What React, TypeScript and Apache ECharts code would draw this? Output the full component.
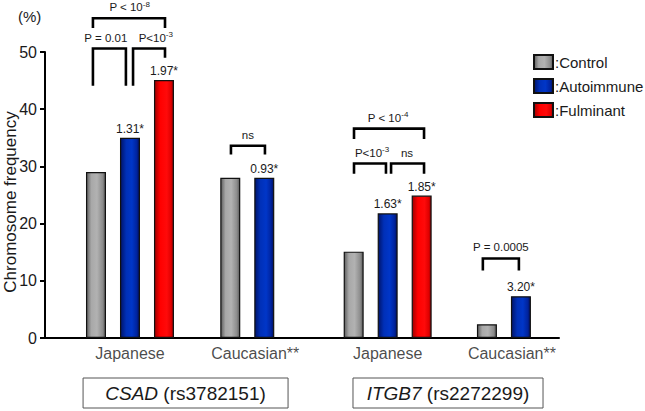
import React, { useEffect, useRef } from 'react';
import * as echarts from 'echarts';

// ---------- data ----------
const groups = ['Japanese', 'Caucasian**', 'Japanese', 'Caucasian**'];
const control = [29, 28, 15.1, 2.4];
const autoimmune = [35, 28, 21.8, 7.3];
const fulminant: (number | null)[] = [45.1, null, 24.9, null];
const autoLabels = ['1.31*', '0.93*', '1.63*', '3.20*'];
const fulLabels = ['1.97*', '', '1.85*', ''];
const genes = ['CSAD', 'ITGB7'];
const snps = ['rs3782151', 'rs2272299'];
const bracketText = [
  'P = 0.01',
  'P<10{s|-3}',
  'P < 10{s|-8}',
  'ns',
  'P < 10{s|-4}',
  'P<10{s|-3}',
  'ns',
  'P = 0.0005',
];
// bracket: [x1, x2, yTop, yLeftEnd, yRightEnd, labelX] (axis units)
const brackets = [
  [1.41, 2.38, 50.6, 44.1, 44.1, 1.79],
  [2.59, 3.53, 50.6, 44.1, 49.0, 3.26],
  [1.41, 3.53, 55.9, 54.2, 54.2, 2.49],
  [5.47, 6.47, 33.6, 32.1, 32.1, 5.97],
  [9.09, 11.15, 36.6, 34.8, 34.8, 10.09],
  [9.09, 10.03, 30.5, 28.7, 28.7, 9.62],
  [10.18, 11.15, 30.5, 28.7, 28.7, 10.65],
  [12.88, 13.94, 13.9, 11.8, 11.8, 13.41],
];

// ---------- layout ----------
const groupStart = [1.5, 5.45, 9.08, 13.0];
const geneSpan = [
  [1.12, 7.15],
  [9.06, 14.65],
];
const FONT = '"Liberation Sans", Arial, Helvetica, sans-serif';
const TXT = '#1a1a1a';

const grad = (stops: [number, string][]) =>
  new echarts.graphic.LinearGradient(
    0, 0, 1, 0,
    stops.map(([offset, color]) => ({ offset, color }))
  );

const grayFill = grad([[0, '#5e5e5e'], [0.25, '#a8a8a8'], [0.55, '#b2b2b2'], [0.85, '#8c8c8c'], [1, '#5a5a5a']]);
const blueFill = grad([[0, '#00146a'], [0.3, '#0030b8'], [0.6, '#0036c8'], [0.85, '#0024a0'], [1, '#001060']]);
const redFill = grad([[0, '#a00000'], [0.3, '#ff0000'], [0.65, '#ff0a0a'], [0.88, '#e00000'], [1, '#900000']]);

export default function App() {
  const ref = useRef<HTMLDivElement>(null);
  useEffect(() => {
    if (!ref.current) return;
    const chart = echarts.init(ref.current, undefined, { renderer: 'svg' });

    const nBars = groups.map((_, i) => (fulminant[i] == null ? 2 : 3));
    const controlData = groups.map((_, i) => [groupStart[i], control[i]]);
    const autoData = groups.map((_, i) => ({ value: [groupStart[i] + 1, autoimmune[i]], name: autoLabels[i] }));
    const fulData = groups
      .map((_, i) => (fulminant[i] == null ? null : { value: [groupStart[i] + 2, fulminant[i]], name: fulLabels[i] }))
      .filter((d) => d != null);
    const catData = groups.map((g, i) => ({
      value: [groupStart[i] + (nBars[i] - 1) / 2, 0],
      name: g,
      label: { offset: g.startsWith('Cauc') ? [8, 0] : [0, 0] },
    }));

    const barCommon = {
      type: 'bar',
      barWidth: 20,
      barGap: '-100%',
      label: {
        show: true,
        position: 'top',
        distance: 3,
        formatter: '{b}',
        fontSize: 12,
        fontFamily: FONT,
        color: TXT,
      },
    };

    const option: any = {
      animation: false,
      textStyle: { fontFamily: FONT },
      title: {
        text: '(%)',
        left: 18,
        top: 9,
        padding: 0,
        textStyle: { fontSize: 15, fontWeight: 'normal', color: TXT, fontFamily: FONT },
      },
      legend: {
        data: ['Control', 'Autoimmune', 'Fulminant'],
        orient: 'vertical',
        left: 533,
        top: 54,
        padding: 0,
        itemWidth: 19,
        itemHeight: 14,
        itemGap: 8,
        icon: 'rect',
        formatter: ':{name}',
        textStyle: { fontSize: 15, color: TXT, fontFamily: FONT, padding: [0, 0, 0, -3] },
      },
      grid: { left: 45, right: 86, top: 52, bottom: 73, containLabel: false, outerBoundsMode: 'none' },
      xAxis: {
        type: 'value',
        min: 0,
        max: 15.12,
        axisLine: { show: true, lineStyle: { color: '#000', width: 2 } },
        axisTick: { show: false },
        axisLabel: { show: false },
        splitLine: { show: false },
      },
      yAxis: {
        type: 'value',
        min: 0,
        max: 50,
        interval: 10,
        name: 'Chromosome frequency',
        nameLocation: 'middle',
        nameGap: 26,
        nameMoveOverlap: false,
        nameTextStyle: { fontSize: 17, color: TXT, fontFamily: FONT, padding: [0, 14, 0, 0] },
        axisLine: { show: true, lineStyle: { color: '#000', width: 2 } },
        axisTick: { show: true, length: 5, lineStyle: { color: '#000', width: 2 } },
        axisLabel: { fontSize: 16, color: TXT, fontFamily: FONT, margin: 8 },
        splitLine: { show: false },
      },
      series: [
        {
          ...barCommon,
          name: 'Control',
          data: controlData,
          label: { show: false },
          itemStyle: { color: grayFill, borderColor: '#111', borderWidth: 1.2 },
        },
        {
          ...barCommon,
          name: 'Autoimmune',
          data: autoData,
          itemStyle: { color: blueFill, borderColor: '#111', borderWidth: 1.2 },
        },
        {
          ...barCommon,
          name: 'Fulminant',
          data: fulData,
          itemStyle: { color: redFill, borderColor: '#111', borderWidth: 1.2 },
        },
        {
          type: 'scatter',
          name: 'categories',
          data: catData,
          symbolSize: 1,
          itemStyle: { color: 'rgba(0,0,0,0)' },
          silent: true,
          label: {
            show: true,
            position: 'bottom',
            distance: 7,
            formatter: '{b}',
            fontSize: 16,
            color: TXT,
            fontFamily: FONT,
          },
          z: 5,
        },
        {
          type: 'custom',
          name: 'brackets',
          clip: false,
          silent: true,
          data: brackets,
          encode: { x: [0, 1, 5], y: [2, 3, 4] },
          renderItem: (params: any, api: any) => {
            const i = params.dataIndex;
            const b = brackets[i];
            const pLe = api.coord([b[0], b[3]]);
            const pL = api.coord([b[0], b[2]]);
            const pR = api.coord([b[1], b[2]]);
            const pRe = api.coord([b[1], b[4]]);
            const pT = api.coord([b[5], b[2]]);
            return {
              type: 'group',
              children: [
                {
                  type: 'polyline',
                  shape: { points: [pLe, pL, pR, pRe] },
                  style: { stroke: '#000', lineWidth: 2.6, fill: null, lineJoin: 'miter' },
                },
                {
                  type: 'text',
                  style: {
                    x: pT[0],
                    y: pT[1] - 4,
                    text: bracketText[i],
                    align: 'center',
                    verticalAlign: 'bottom',
                    fontSize: 11.5,
                    lineHeight: 14,
                    fontFamily: FONT,
                    fill: TXT,
                    rich: {
                      s: { fontSize: 8, lineHeight: 8, verticalAlign: 'top', fontFamily: FONT, fill: TXT },
                    },
                  },
                },
              ],
            };
          },
        },
        {
          type: 'custom',
          name: 'genes',
          clip: false,
          silent: true,
          data: geneSpan,
          encode: { x: [0, 1] },
          renderItem: (params: any, api: any) => {
            const i = params.dataIndex;
            const s = geneSpan[i];
            const p1 = api.coord([s[0], 0]);
            const p2 = api.coord([s[1], 0]);
            const top = p1[1] + 40;
            return {
              type: 'group',
              children: [
                {
                  type: 'rect',
                  shape: { x: p1[0], y: top, width: p2[0] - p1[0], height: 30 },
                  style: { fill: '#fff', stroke: '#555', lineWidth: 1 },
                },
                {
                  type: 'text',
                  style: {
                    x: (p1[0] + p2[0]) / 2,
                    y: top + 15,
                    text: `{i|${genes[i]}} (${snps[i]})`,
                    align: 'center',
                    verticalAlign: 'middle',
                    fontSize: 19,
                    fontFamily: FONT,
                    fill: TXT,
                    rich: {
                      i: { fontSize: 19, fontStyle: 'italic', fontFamily: FONT, fill: TXT },
                    },
                  },
                },
              ],
            };
          },
        },
      ],
    };
    chart.setOption(option);
    return () => chart.dispose();
  }, []);
  return (
    <div
      ref={ref}
      style={{ position: 'fixed', left: 0, top: 0, width: 645, height: 411, background: '#fff' }}
    />
  );
}
